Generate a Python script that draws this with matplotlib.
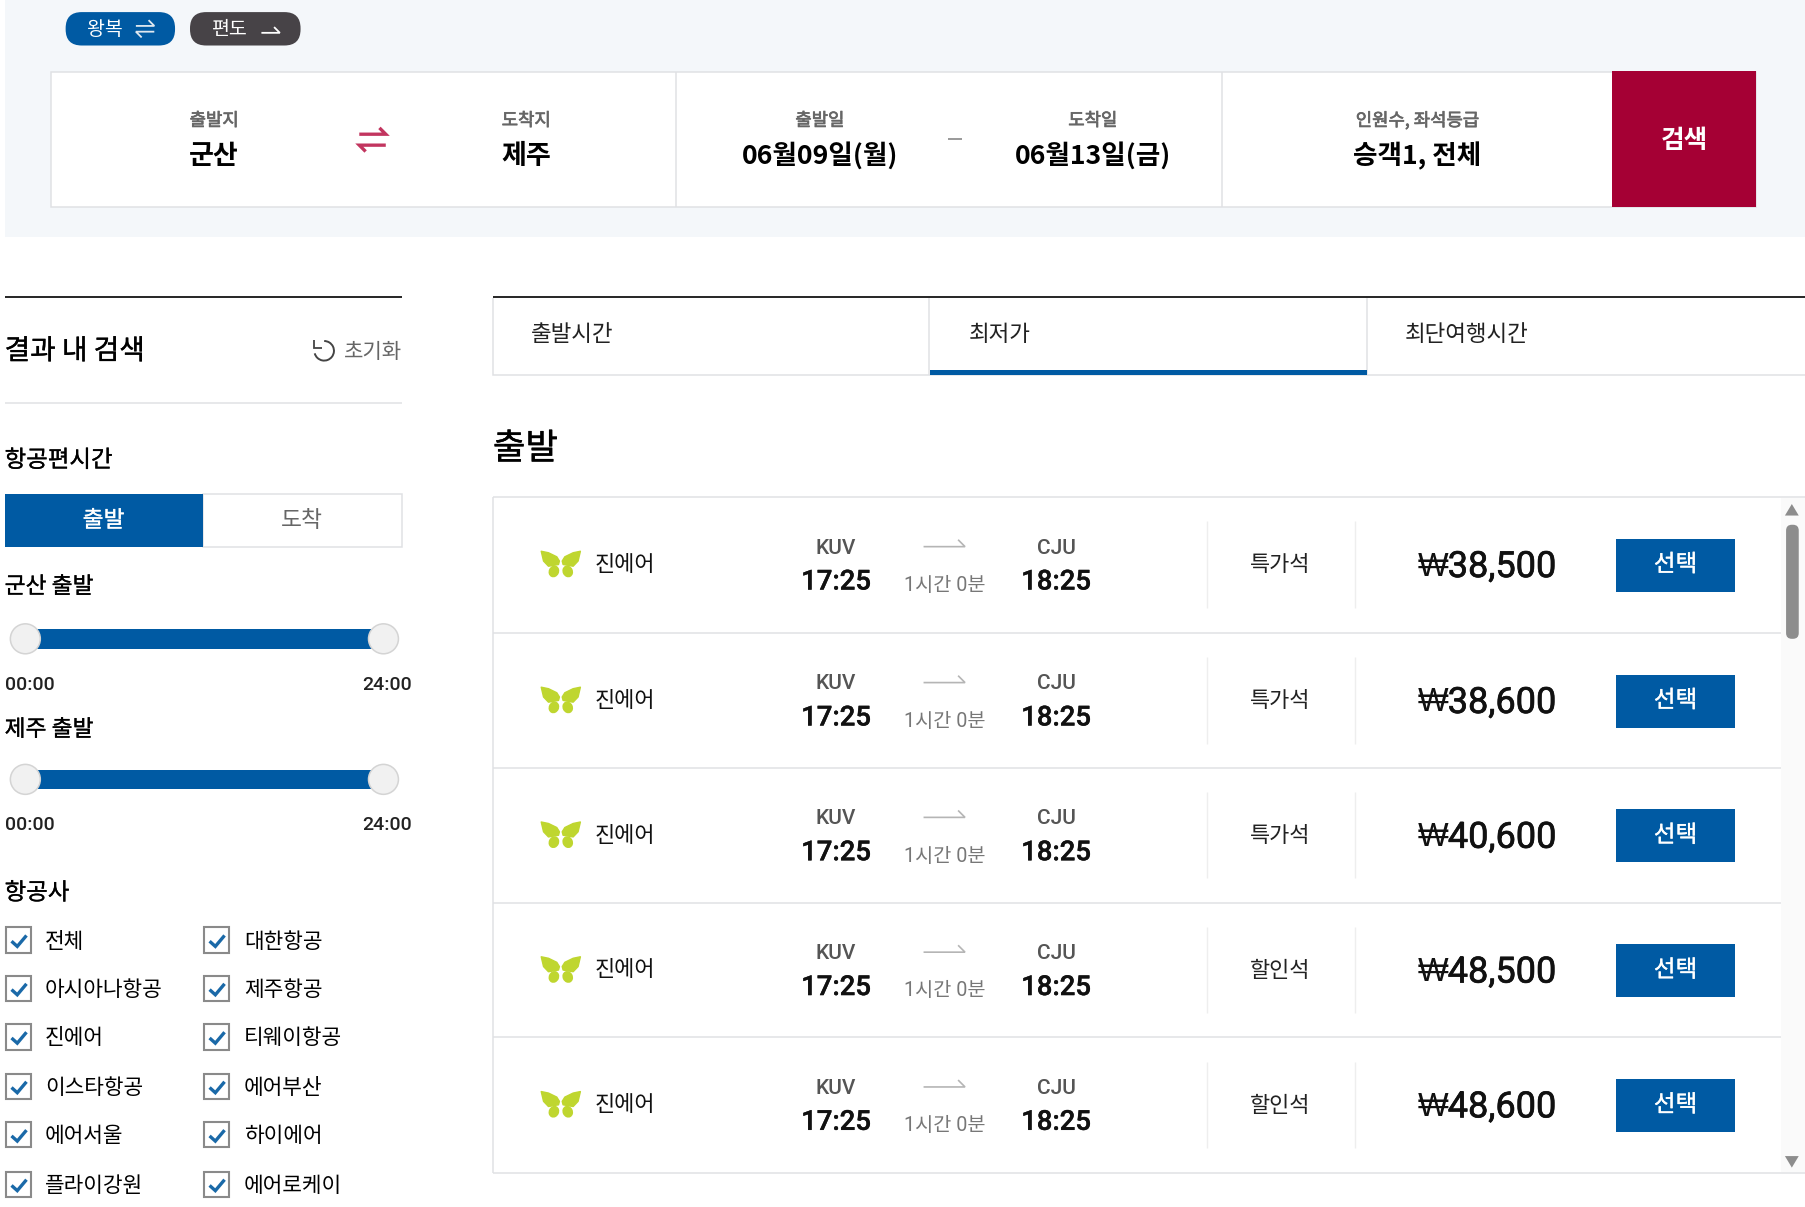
import matplotlib
matplotlib.use("Agg")
import matplotlib.pyplot as plt
import matplotlib.patheffects as pe
from matplotlib.patches import Rectangle, FancyBboxPatch, Circle, Ellipse, Polygon, Arc

# Data
fares = ["₩38,500", "₩38,600", "₩40,600", "₩48,500", "₩48,600"]
seat_classes = ["특가석", "특가석", "특가석", "할인석", "할인석"]
row_tops = [432, 550, 667, 784, 901]
row_bottom = 1019
airline = "진에어"
dep_code, arr_code = "KUV", "CJU"
dep_time, arr_time = "17:25", "18:25"
duration = "1시간 0분"

tab_names = ["출발시간", "최저가", "최단여행시간"]
airlines_left = ["전체", "아시아나항공", "진에어", "이스타항공", "에어서울", "플라이강원"]
airlines_right = ["대한항공", "제주항공", "티웨이항공", "에어부산", "하이에어", "에어로케이"]
check_rows = [817, 859, 901, 944, 986, 1029]
slider_labels = ["00:00", "24:00"]

# Colors
BLUE = "#005aa3"
BORDER = "#e0e1e4"
GRAY = "#666666"
KR = ["Noto Sans CJK KR", "DejaVu Sans"]
NUM = ["Roboto", "Noto Sans CJK KR", "DejaVu Sans"]
WON = ["Liberation Sans", "DejaVu Sans"]

plt.rcParams["font.family"] = KR

# axes units are the px of a 1568 wide screen
fig = plt.figure(figsize=(18.06, 12.07), dpi=100)
ax = fig.add_axes([0, 0, 1, 1])
ax.set_xlim(0.0, 1568.3)
ax.set_ylim(1048.2, 0.5)
ax.axis("off")


def box(x0, y0, x1, y1, fc="white", ec="none", lw=1.0, z=1):
    ax.add_patch(Rectangle((x0, y0), x1 - x0, y1 - y0, fc=fc, ec=ec, lw=lw, zorder=z))


def line(xs, ys, color=BORDER, lw=1.1, z=2):
    ax.plot(xs, ys, color=color, lw=lw, zorder=z, solid_capstyle="butt", solid_joinstyle="miter")


def label(x, y, s, size, color="black", ha="center", weight="normal", fam=KR, heavy=0):
    # heavy: thin outline, the CJK font has no weight between regular and bold here
    dy = 3.3 if fam is KR else 2.2
    t = ax.text(x, y + dy, s, fontsize=size, color=color, ha=ha, va="center", weight=weight, family=fam, zorder=5)
    if heavy:
        t.set_path_effects([pe.withStroke(linewidth=heavy, foreground=color)])


def half_arrow(x0, x1, y, color, lw, up=True, barb=6):
    # arrow with only one barb, like the icons on the page
    d = -1 if up else 1
    step = barb if x1 > x0 else -barb
    line([x0, x1, x1 - step], [y, y, y + d * barb], color, lw, 4)


def round_box(x0, y0, x1, y1, r, fc):
    ax.add_patch(FancyBboxPatch((x0 + r, y0 + r), x1 - x0 - 2 * r, y1 - y0 - 2 * r,
                                boxstyle=f"round,pad={r},rounding_size={r}", fc=fc, ec="none", zorder=3))


########## Top search band ##########
box(4, 0, 1568.3, 206, fc="#f4f7fa", z=0)
round_box(57, 11, 152, 40, 14, BLUE)
round_box(165, 11, 261, 40, 14, "#474347")
label(91, 23, "왕복", 14, "white")
label(200, 23, "편도", 14, "white")
half_arrow(118, 134, 23, "#dfe8f0", 1.3, barb=5)
half_arrow(134, 118, 28, "#dfe8f0", 1.3, up=False, barb=5)
half_arrow(227, 243, 29, "white", 1.3, barb=5)

box(44, 63, 1525, 180, fc="white", ec=BORDER, lw=1.1)
line([587, 587], [63, 180])
line([1061, 1061], [63, 180])
box(1400, 62.5, 1525, 180, fc="#a50034", z=3)
label(1463, 119.5, "검색", 18.5, "white", weight="bold")

label(186, 102, "출발지", 12.8, GRAY, heavy=0.5)
label(186, 133, "군산", 19.5, weight="bold")
label(457, 102, "도착지", 12.8, GRAY, heavy=0.5)
label(457, 133, "제주", 19.5, weight="bold")
half_arrow(312, 335, 117, "#c2355f", 2.4, barb=5.5)
half_arrow(335, 312, 126.5, "#c2355f", 2.4, up=False, barb=5.5)
label(712, 102, "출발일", 12.8, GRAY, heavy=0.5)
label(712, 132.5, "06월09일(월)", 19.2, weight="bold")
line([823, 835], [121, 121], "#888888", 1.2)
label(949, 102, "도착일", 12.8, GRAY, heavy=0.5)
label(949, 132.5, "06월13일(금)", 19.2, weight="bold")
label(1231, 102, "인원수, 좌석등급", 12.8, GRAY, heavy=0.5)
label(1231, 132.5, "승객1, 전체", 19.2, weight="bold")

########## Left filter column ##########
line([4, 349], [258, 258], "black", 1.2)
label(4, 302, "결과 내 검색", 20, ha="left", heavy=0.25)
ax.add_patch(Arc((281.5, 305), 17, 17, angle=0, theta1=-90, theta2=165, color="#444444", lw=1.4, zorder=4))
line([273, 273, 280], [296, 302.5, 302.5], "#444444", 1.3)
label(349, 303, "초기화", 15.2, GRAY, ha="right")
line([4, 349], [350, 350])

label(4, 397, "항공편시간", 16.9, ha="left", heavy=0.2)
box(176, 429, 349, 475, ec=BORDER, lw=1.1)
box(4, 429, 176, 475, fc=BLUE, z=2)
label(90, 449, "출발", 16.4, "white", heavy=0.2)
label(262, 449, "도착", 16.4, GRAY)

for title, title_y, bar_y in [("군산 출발", 506.5, 555), ("제주 출발", 630.5, 677)]:
    label(4, title_y, title, 16.4, ha="left", heavy=0.2)
    box(22, bar_y - 8.5, 333, bar_y + 8.5, fc=BLUE, z=2)
    for cx in (22, 333):
        ax.add_patch(Circle((cx, bar_y), 13, fc="#f1f1f1", ec="#d4d4d4", lw=1.1, zorder=3))
    label(4, bar_y + 37.5, slider_labels[0], 14, "#222222", ha="left", weight="medium", fam=NUM)
    label(358, bar_y + 37.5, slider_labels[1], 14, "#222222", ha="right", weight="medium", fam=NUM)

label(4, 772.5, "항공사", 16.9, ha="left", heavy=0.2)
for names, bx, tx in [(airlines_left, 5, 39), (airlines_right, 177, 212)]:
    for name, y in zip(names, check_rows):
        box(bx, y - 11.5, bx + 22, y + 10.5, ec="#8a8a8a", lw=1.5)
        line([bx + 5, bx + 10, bx + 18], [y + 0.5, y + 5, y - 4.5], "#1a69a8", 2.4, 4)
        label(tx, y - 2.5, name, 15.4, ha="left")

########## Sort tabs ##########
line([428, 1568.3], [258, 258], "black", 1.2)
line([428, 428, 1568.3], [259, 326, 326])
line([807, 807], [259, 326])
line([1187, 1187], [259, 326])
box(808, 322, 1187, 326, fc=BLUE, z=3)
for name, x in zip(tab_names, [461, 841, 1220]):
    label(x, 287.5, name, 16.2, "#222222", ha="left")

label(428, 387, "출발", 25.5, ha="left", heavy=0.3)

########## Fare list ##########
box(1547, 433, 1568.3, 1018, fc="#fafafa", z=0)
line([428, 1568.3], [432, 432])
line([428, 1568.3], [row_bottom, row_bottom])
line([428, 428], [432, row_bottom])

for fare, seat, top in zip(fares, seat_classes, row_tops):
    if top != row_tops[0]:
        line([428, 1547], [top, top])
    line([1048, 1048], [top + 21, top + 96], "#eeeeee", 1.0)
    line([1177, 1177], [top + 21, top + 96], "#eeeeee", 1.0)

    # butterfly logo
    lx, ly = 487, top + 57
    for s in (-1, 1):
        ax.add_patch(Polygon([(lx + s * 17, ly - 10), (lx + s * 10.7, ly - 8.7), (lx + s * 3.5, ly - 5.2),
                              (lx + s * 1.2, ly - 1.5), (lx + s * 2, ly + 1.5), (lx + s * 10.7, ly + 3),
                              (lx + s * 15, ly - 1.5)],
                             closed=True, fc="#bfd62f", ec="#bfd62f", lw=1, joinstyle="round", zorder=3))
        ax.add_patch(Ellipse((lx + s * 6, ly + 7.5), 9, 10.5, angle=-s * 25, fc="#bfd62f", ec="none", zorder=3))

    label(516, top + 55.5, airline, 15.8, "#111111", ha="left")
    label(726, top + 42, dep_code, 15, "#555555", weight="medium", fam=NUM)
    label(726, top + 71.5, dep_time, 19.8, "#111111", weight="medium", fam=NUM, heavy=0.3)
    label(917, top + 42, arr_code, 15, "#555555", weight="medium", fam=NUM)
    label(917, top + 71.5, arr_time, 19.8, "#111111", weight="medium", fam=NUM, heavy=0.3)
    half_arrow(802, 838, top + 43, "#b5b5b5", 1.2)
    label(820, top + 74.5, duration, 14.2, "#777777", fam=NUM)
    label(1112, top + 56, seat, 15.8, "#222222")
    # the won sign comes from another font than the digits
    label(1258, top + 58.5, fare[0], 23.5, "#111111", ha="right", fam=WON)
    label(1351.5, top + 58.5, fare[1:], 26, "#111111", ha="right", fam=NUM, heavy=0.5)
    box(1403, top + 36, 1507, top + 82, fc=BLUE, z=3)
    label(1455, top + 55.5, "선택", 17, "white", heavy=0.2)

# scrollbar
round_box(1551, 456, 1562, 555, 5, "#8d8d8d")
ax.add_patch(Polygon([(1556, 438), (1550, 448), (1562, 448)], closed=True, fc="#8d8d8d", ec="none", zorder=3))
ax.add_patch(Polygon([(1556, 1014), (1550, 1004), (1562, 1004)], closed=True, fc="#8d8d8d", ec="none", zorder=3))

fig.savefig("out.png", dpi=100)
